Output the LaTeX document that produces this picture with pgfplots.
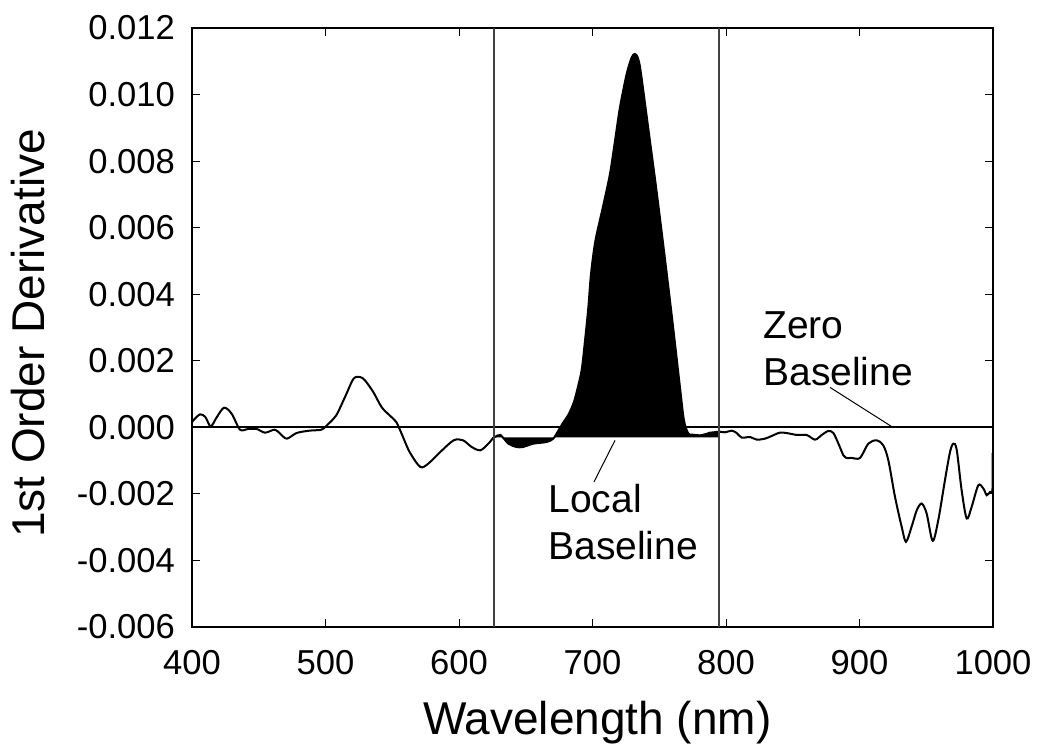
\documentclass[border=0pt]{standalone}
\usepackage{fontspec}
\setmainfont{Liberation Sans}
\usepackage{pgfplots}
\pgfplotsset{compat=1.18}
\usepgfplotslibrary{fillbetween}
\begin{document}
\begin{tikzpicture}
\begin{axis}[name=ax, scale only axis, width=400.5pt, height=299.5pt,
  xmin=400, xmax=1000, ymin=-0.006, ymax=0.012,
  xtick={400,500,600,700,800,900,1000},
  xticklabels={400,500,600,700,800,900,1000},
  ytick={-0.006,-0.004,-0.002,0,0.002,0.004,0.006,0.008,0.010,0.012},
  yticklabels={-0.006,-0.004,-0.002,0.000,0.002,0.004,0.006,0.008,0.010,0.012},
  scaled y ticks=false, scaled x ticks=false,
  tick align=inside, major tick length=4pt,
  tick style={black, line width=0.5pt},
  axis line style={line width=0.8pt},
  ticklabel style={font=\fontsize{17.3}{20}\selectfont},
  xticklabel style={yshift=-8pt},
  yticklabel style={xshift=-5pt},
  xlabel={Wavelength (nm)}, ylabel={1st Order Derivative},
  label style={font=\fontsize{23}{27}\selectfont},
  xlabel style={at={(axis description cs:0.506,-0.160)}, anchor=center},
  ylabel style={at={(axis description cs:-0.205,0.49)}, anchor=center},
]
\addplot[draw=none, name path=base] coordinates {(600,-0.0003) (820,-0.0003)};
\addplot[name path=curve, black, line width=1pt, smooth, tension=0.5, forget plot] coordinates {
(400,0.00015) (401,0.00021) (406,0.00039) (410,0.00031) (414,0.00003) (418.5,0.0003)
(424,0.00059) (429.7,0.00041) (436,-0.00007) (442,-0.00005) (448.5,-0.00005)
(454.7,-0.00016) (462,-0.00007) (466,-0.00019) (471,-0.00034) (478.4,-0.00017)
(488,-0.0001) (497,-0.00007) (501,0.00006) (508,0.00036) (514.6,0.00091)
(521,0.00146) (526,0.00151) (529.6,0.00141) (535.8,0.00106) (542,0.00061)
(548,0.00036) (553,0.00016) (557,-0.00019) (563,-0.00074) (571,-0.00119)
(577,-0.00109) (586,-0.00074) (596,-0.00039) (603,-0.00039) (609.5,-0.00059)
(616,-0.00069) (622,-0.00049) (626,-0.0003) (627,-0.00029) (631,-0.00023)
(637,-0.00049) (643,-0.00059) (648,-0.00059) (655.7,-0.00049) (665.7,-0.00044)
(670.6,-0.00034) (674.4,-0.0001) (678,0.00014) (682,0.00038) (686,0.00075)
(689,0.0012) (692,0.00175) (694.4,0.00261) (696.9,0.00361) (698.9,0.00462)
(702.2,0.00561) (707.8,0.00662) (713.1,0.00762) (716.9,0.00862) (720.6,0.00962)
(725.6,0.01062) (729.4,0.01112) (731.8,0.01122) (734,0.0111) (736,0.01072)
(741,0.00922) (747.6,0.00722) (753.8,0.00522) (759.8,0.00321) (765.5,0.00121)
(768.5,0.00021) (771.8,-0.00019) (775,-0.00022) (780.5,-0.00024) (785,-0.0002)
(788,-0.00016) (791,-0.00015) (795,-0.00013) (799.3,-0.00015) (804.3,-0.0001)
(808,-0.00017) (811.8,-0.00031) (818,-0.00029) (823,-0.00037) (829.2,-0.00034)
(834.2,-0.00026) (840.4,-0.00016) (846.7,-0.00018) (853,-0.00023) (860.4,-0.00023)
(866.7,-0.00037) (871.7,-0.00023) (876.6,-0.00011) (880.4,-0.00017) (884.2,-0.00049)
(887.9,-0.00084) (890,-0.00092) (894,-0.00092) (900.4,-0.00092) (906.6,-0.00049)
(912.9,-0.00039) (917.8,-0.00054) (921.6,-0.00099) (926.6,-0.00209) (931.6,-0.00299)
(934.8,-0.00344) (939,-0.00299) (942.9,-0.00249) (946.6,-0.00229) (950.3,-0.00259)
(954.8,-0.00341) (959,-0.00279) (964,-0.00159) (967.8,-0.00074) (970.3,-0.00049)
(972.8,-0.00067) (976.5,-0.00189) (980.3,-0.00274) (984,-0.00239) (989,-0.00174)
(992.8,-0.00184) (995.3,-0.00204) (997.8,-0.00194) (999.6,-0.00194)
};
\addplot[black, line width=1pt, forget plot] coordinates {(999.6,-0.00194) (999.8,-0.00077)};
\addplot[fill=black, draw=none] fill between[of=curve and base, soft clip={domain=626:795}];
\addplot[black, line width=0.9pt] coordinates {(400,0) (1000,0)};
\addplot[black!75, line width=1pt] coordinates {(626,-0.006) (626,0.012)};
\addplot[black!75, line width=1pt] coordinates {(795,-0.006) (795,0.012)};
\addplot[black, line width=0.5pt] coordinates {(877.9,0.0012) (925,0)};
\addplot[black, line width=0.5pt] coordinates {(716.9,-0.00039) (701.1,-0.00164)};
\node[anchor=base west, inner sep=0pt, font=\fontsize{19.5}{23}\selectfont] at (axis cs:827.7,0.00267) {Zero};
\node[anchor=base west, inner sep=0pt, font=\fontsize{19.5}{23}\selectfont] at (axis cs:827.7,0.00126) {Baseline};
\node[anchor=base west, inner sep=0pt, font=\fontsize{19.5}{23}\selectfont] at (axis cs:666.7,-0.00255) {Local};
\node[anchor=base west, inner sep=0pt, font=\fontsize{19.5}{23}\selectfont] at (axis cs:666.7,-0.00396) {Baseline};
\end{axis}
\pgfresetboundingbox
\path[use as bounding box] ([shift={(-96pt,-64pt)}]ax.south west) rectangle ([shift={(22pt,14pt)}]ax.north east);
\end{tikzpicture}
\end{document}
